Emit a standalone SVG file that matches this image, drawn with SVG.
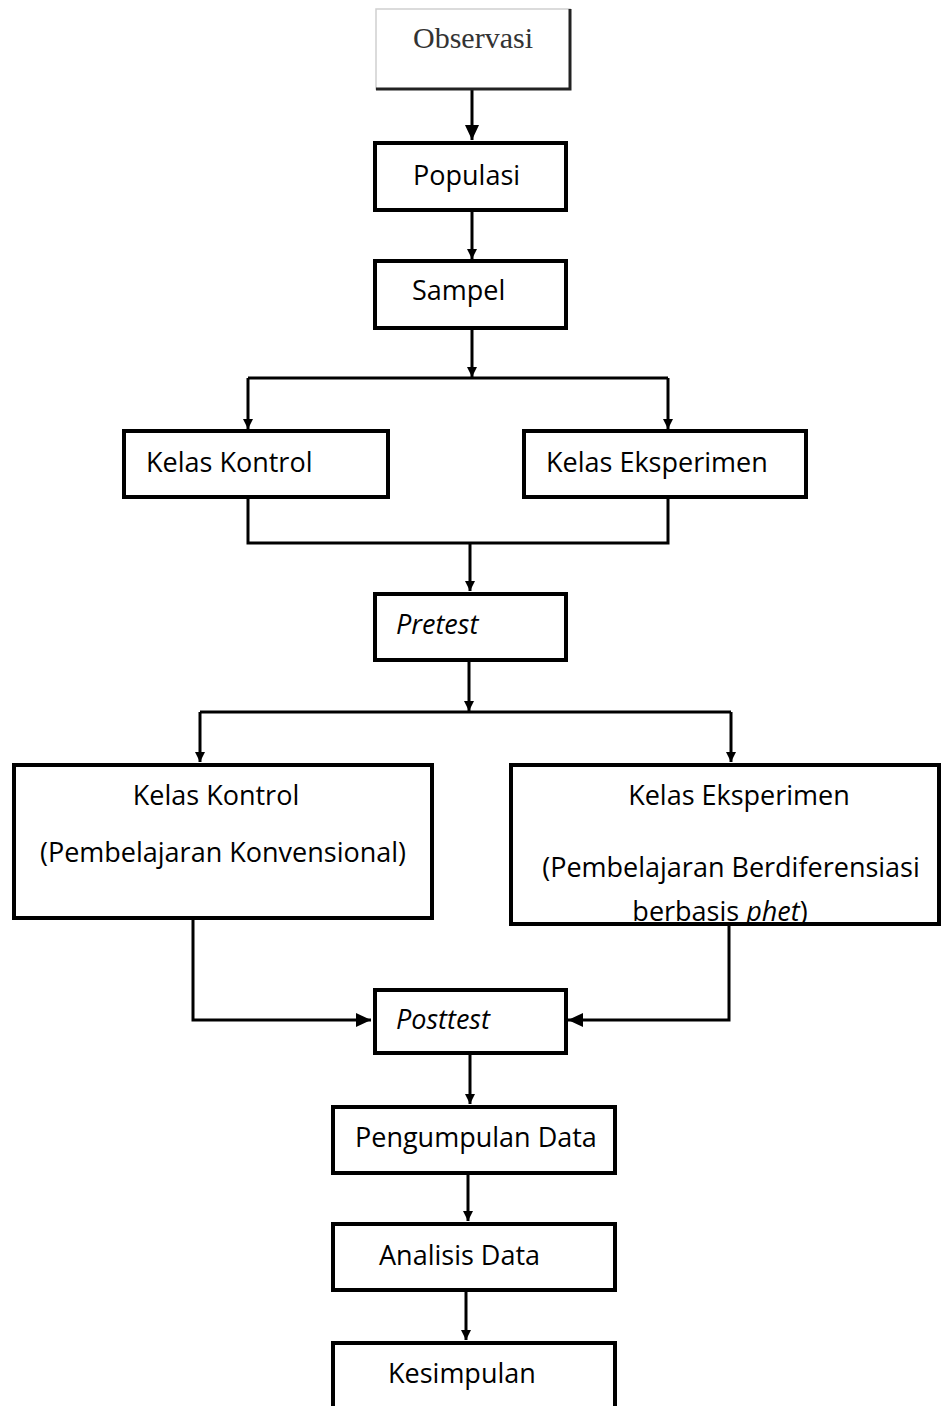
<svg xmlns="http://www.w3.org/2000/svg" width="943" height="1406" viewBox="0 0 943 1406">
<style>
.box{fill:#fff;stroke:#000;stroke-width:4}
.t{font-family:"Open Sans","Liberation Sans",sans-serif;font-size:27px;fill:#000}
.i{font-style:italic}
.c{fill:none;stroke:#000;stroke-width:3}
</style>
<defs>
<marker id="big" markerUnits="userSpaceOnUse" markerWidth="16" markerHeight="16" refX="15" refY="8" orient="auto">
<path d="M0,1 L15,8 L0,15 z" fill="#000"/>
</marker>
<marker id="sm" markerUnits="userSpaceOnUse" markerWidth="12" markerHeight="12" refX="10" refY="6" orient="auto">
<path d="M0,1 L10,6 L0,11 z" fill="#000"/>
</marker>
<clipPath id="clipB"><rect x="509" y="880" width="434" height="46"/></clipPath>
</defs>
<rect width="943" height="1406" fill="#fff"/>
<g id="connectors">
<line class="c" x1="472" y1="90" x2="472" y2="140" marker-end="url(#big)"/>
<line class="c" x1="472" y1="211" x2="472" y2="259" marker-end="url(#sm)"/>
<line class="c" x1="472" y1="329" x2="472" y2="377" marker-end="url(#sm)"/>
<line class="c" x1="248" y1="378" x2="668" y2="378"/>
<line class="c" x1="248" y1="378" x2="248" y2="429" marker-end="url(#sm)"/>
<line class="c" x1="668" y1="378" x2="668" y2="429" marker-end="url(#sm)"/>
<polyline class="c" points="248,498 248,543 668,543 668,498"/>
<line class="c" x1="470" y1="543" x2="470" y2="591" marker-end="url(#sm)"/>
<line class="c" x1="469" y1="661" x2="469" y2="711" marker-end="url(#sm)"/>
<line class="c" x1="200" y1="712" x2="731" y2="712"/>
<line class="c" x1="200" y1="712" x2="200" y2="762" marker-end="url(#sm)"/>
<line class="c" x1="731" y1="712" x2="731" y2="762" marker-end="url(#sm)"/>
<polyline class="c" points="193,919 193,1020 371,1020" marker-end="url(#big)"/>
<polyline class="c" points="729,925 729,1020 568,1020" marker-end="url(#big)"/>
<line class="c" x1="470" y1="1054" x2="470" y2="1104" marker-end="url(#sm)"/>
<line class="c" x1="468" y1="1174" x2="468" y2="1221" marker-end="url(#sm)"/>
<line class="c" x1="466" y1="1292" x2="466" y2="1340" marker-end="url(#sm)"/>
</g>
<g id="observasi">
<rect x="376" y="9" width="194" height="80" fill="#fff" stroke="#cfcfcf" stroke-width="1.5"/>
<polyline points="570,9 570,89 376,89" fill="none" stroke="#222" stroke-width="3"/>
<text x="473" y="48" text-anchor="middle" font-family="Liberation Serif, serif" font-size="30" fill="#333">Observasi</text>
</g>
<g id="populasi">
<rect class="box" x="375" y="143" width="191" height="67"/>
<text class="t" x="413" y="185">Populasi</text>
</g>
<g id="sampel">
<rect class="box" x="375" y="261" width="191" height="67"/>
<text class="t" x="412" y="300">Sampel</text>
</g>
<g id="kelas-kontrol-1">
<rect class="box" x="124" y="431" width="264" height="66"/>
<text class="t" x="146" y="472">Kelas Kontrol</text>
</g>
<g id="kelas-eksperimen-1">
<rect class="box" x="524" y="431" width="282" height="66"/>
<text class="t" x="546" y="472">Kelas Eksperimen</text>
</g>
<g id="pretest">
<rect class="box" x="375" y="594" width="191" height="66"/>
<text class="t i" x="396" y="634">Pretest</text>
</g>
<g id="kelas-kontrol-2">
<rect class="box" x="14" y="765" width="418" height="153"/>
<text class="t" x="216" y="805" text-anchor="middle">Kelas Kontrol</text>
<text class="t" x="223" y="862" text-anchor="middle">(Pembelajaran Konvensional)</text>
</g>
<g id="kelas-eksperimen-2">
<text class="t" x="739" y="805" text-anchor="middle">Kelas Eksperimen</text>
<text class="t" x="731" y="877" text-anchor="middle">(Pembelajaran Berdiferensiasi</text>
<text class="t" x="720" y="921" text-anchor="middle" clip-path="url(#clipB)">berbasis <tspan class="i">phet</tspan>)</text>
<rect x="511" y="765" width="428" height="159" fill="none" stroke="#000" stroke-width="4"/>
</g>
<g id="posttest">
<rect class="box" x="375" y="990" width="191" height="63"/>
<text class="t i" x="396" y="1029">Posttest</text>
</g>
<g id="pengumpulan-data">
<rect class="box" x="333" y="1107" width="282" height="66"/>
<text class="t" x="355" y="1147">Pengumpulan Data</text>
</g>
<g id="analisis-data">
<rect class="box" x="333" y="1224" width="282" height="66"/>
<text class="t" x="379" y="1265">Analisis Data</text>
</g>
<g id="kesimpulan">
<rect class="box" x="333" y="1343" width="282" height="80"/>
<text class="t" x="388" y="1383">Kesimpulan</text>
</g>
</svg>
